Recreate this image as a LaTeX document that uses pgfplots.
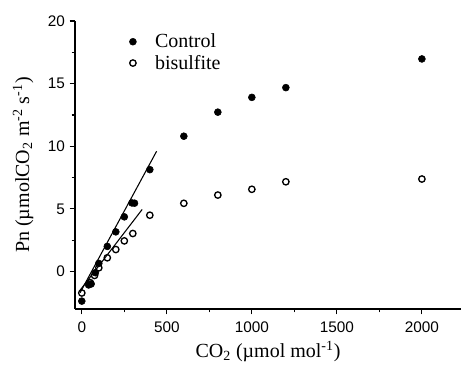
\documentclass[border=0pt]{standalone}
\usepackage{pgfplots}
\pgfplotsset{compat=1.18}
\usepackage{fontspec}
\setmainfont{Liberation Serif}
\newfontfamily\arial{Liberation Sans}
\begin{document}
\begin{tikzpicture}
\path[use as bounding box] (-56.25pt,-43.5pt) rectangle (291pt,231.75pt);
\begin{axis}[
  at={(0,0)}, anchor=south west,
  scale only axis, width=289.5pt, height=216pt,
  xmin=-40, xmax=2230, ymin=-3, ymax=20,
  axis x line*=bottom, axis y line*=left,
  axis line style={line width=1pt},
  xtick={0,500,1000,1500,2000}, ytick={0,5,10,15,20},
  minor x tick num=1, minor y tick num=1,
  tick align=outside,
  major tick length=4pt, minor tick length=2.5pt,
  every tick/.style={black, line width=0.9pt},
  tick label style={font=\arial\fontsize{11.5}{13}\selectfont},
  xticklabel style={yshift=-2pt},
  /pgf/number format/assume math mode=true,
  /pgf/number format/1000 sep={},
  xlabel={CO\textsubscript{2} (µmol mol\textsuperscript{-1})},
  ylabel={Pn (µmolCO\textsubscript{2} m\textsuperscript{-2} s\textsuperscript{-1})},
  label style={font=\fontsize{15}{18}\selectfont},
  xlabel style={yshift=0pt},
  ylabel style={yshift=4pt},
  legend style={at={(0.13,0.975)}, anchor=north west, draw=none, fill=none,
    font=\fontsize{15}{18}\selectfont, row sep=0pt, column sep=12pt,
    legend cell align=left},
]
\addplot[only marks, mark=*, mark size=2.6pt, black] coordinates {
(0,-2.37) (40,-1.08) (55,-1.0) (80,-0.1) (100,0.64) (150,2.0) (200,3.16)
(250,4.36) (295,5.47) (310,5.45) (400,8.13) (600,10.8) (800,12.72)
(1000,13.9) (1200,14.68) (2000,16.97)
};
\addlegendentry{Control}
\addplot[only marks, mark=o, mark size=2.4pt, black, line width=1pt] coordinates {
(0,-1.72) (50,-0.9) (75,-0.32) (100,0.29) (150,1.09) (200,1.75) (250,2.44)
(300,3.03) (400,4.49) (600,5.44) (800,6.1) (1000,6.56) (1200,7.16) (2000,7.38)
};
\addlegendentry{bisulfite}
\addplot[black, line width=0.8pt, forget plot] coordinates {(-10,-1.7) (440,9.6)};
\addplot[black, line width=0.8pt, forget plot] coordinates {(-10,-1.5) (355,4.95)};
\end{axis}
\end{tikzpicture}
\end{document}
